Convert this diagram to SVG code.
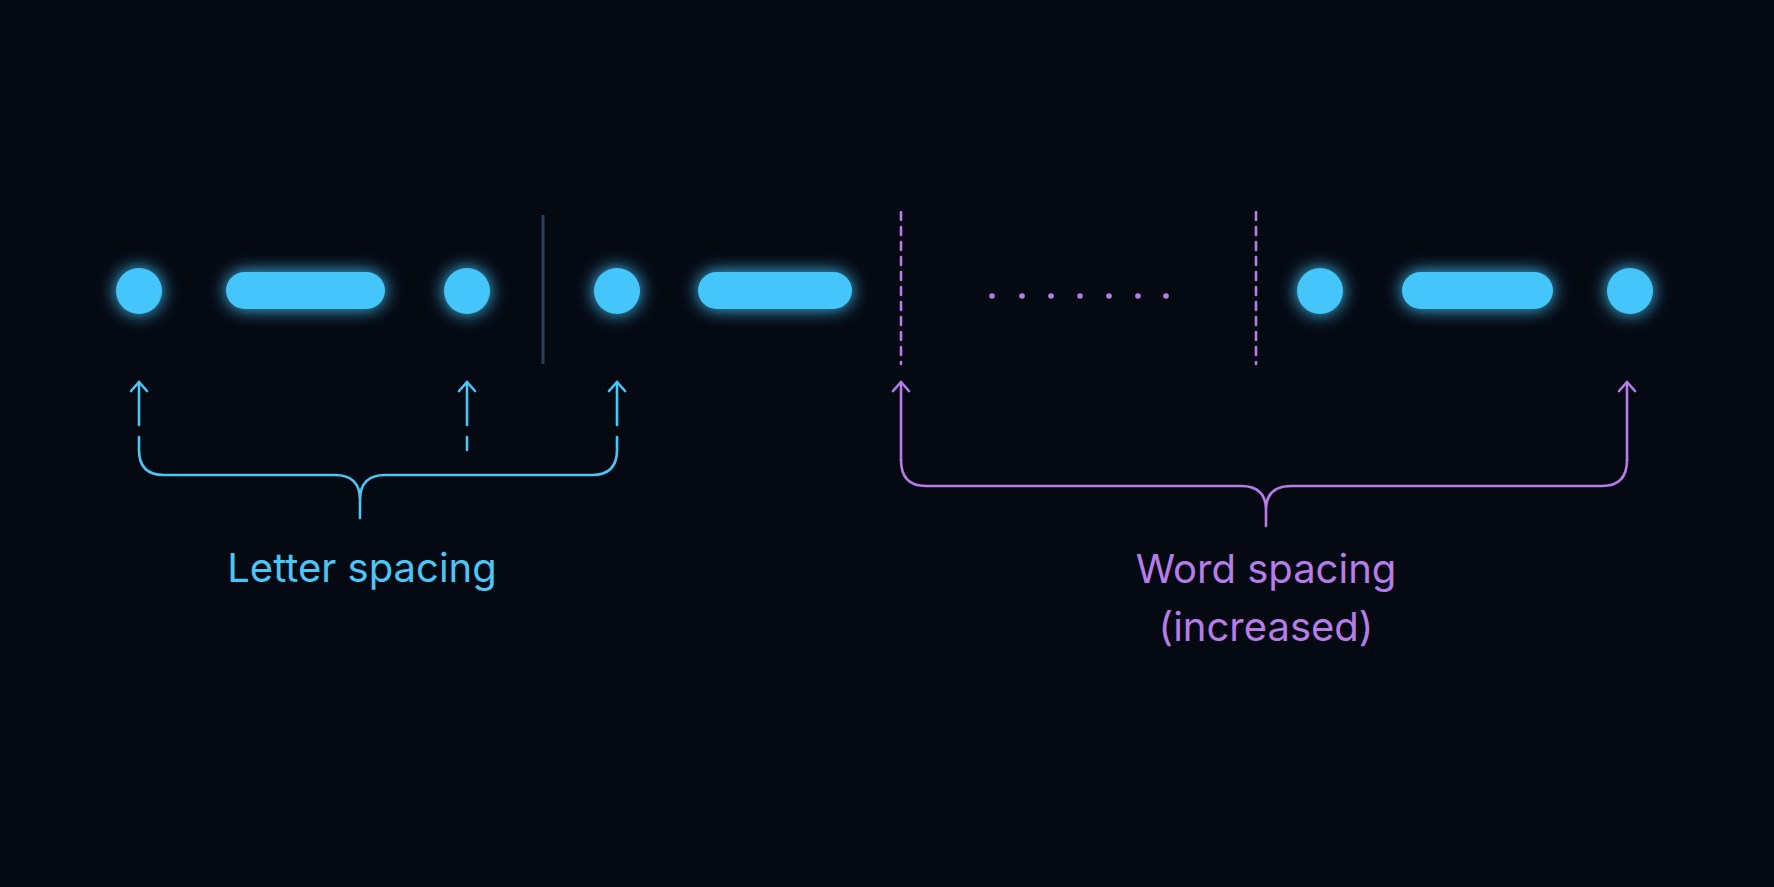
<svg xmlns="http://www.w3.org/2000/svg" width="1774" height="887" viewBox="0 0 1774 887">
<defs>
<filter id="glow" x="-50%" y="-100%" width="200%" height="300%"><feGaussianBlur stdDeviation="9" result="b"/><feMerge><feMergeNode in="b"/><feMergeNode in="SourceGraphic"/></feMerge></filter>
<marker id="ab" viewBox="0 0 20 20" refX="11" refY="10" markerWidth="20" markerHeight="20" markerUnits="userSpaceOnUse" orient="auto"><path d="M2 2 L11 10 L2 18" fill="none" stroke="#4cc6f5" stroke-width="2.6" stroke-linecap="round" stroke-linejoin="round"/></marker>
<marker id="ap" viewBox="0 0 20 20" refX="11" refY="10" markerWidth="20" markerHeight="20" markerUnits="userSpaceOnUse" orient="auto"><path d="M2 2 L11 10 L2 18" fill="none" stroke="#b67ce8" stroke-width="2.6" stroke-linecap="round" stroke-linejoin="round"/></marker>
</defs>
<style>
.m{fill:#45c6fb;filter:url(#glow)}
.b{fill:none;stroke:#4cc6f5;stroke-width:2.6;stroke-linecap:round;stroke-linejoin:round}
.p{fill:none;stroke:#b67ce8;stroke-width:2.6;stroke-linecap:round;stroke-linejoin:round}
.t{font-family:Inter,"Liberation Sans",sans-serif;font-size:40px;text-anchor:middle}
</style>
<rect width="1774" height="887" fill="#050912"/>
<g id="word1">
<circle class="m" cx="139" cy="291" r="23"/>
<rect class="m" x="226" y="272" width="159" height="37" rx="18.5"/>
<circle class="m" cx="467" cy="291" r="23"/>
</g>
<line id="separator" x1="543" y1="215" x2="543" y2="364" stroke="#25405a" stroke-width="3"/>
<g id="word2">
<circle class="m" cx="617" cy="291" r="23"/>
<rect class="m" x="698" y="272" width="154" height="37" rx="18.5"/>
</g>
<g id="gap">
<line class="p" x1="901" y1="212" x2="901" y2="364" stroke-dasharray="8 7" stroke-linecap="butt"/>
<line class="p" x1="1256" y1="212" x2="1256" y2="364" stroke-dasharray="8 7" stroke-linecap="butt"/>
<g fill="#b67ce8"><circle cx="992" cy="296" r="2.8"/><circle cx="1022" cy="296" r="2.8"/><circle cx="1051" cy="296" r="2.8"/><circle cx="1080" cy="296" r="2.8"/><circle cx="1109" cy="296" r="2.8"/><circle cx="1138" cy="296" r="2.8"/><circle cx="1166" cy="296" r="2.8"/></g>
</g>
<g id="word3">
<circle class="m" cx="1320" cy="291" r="23"/>
<rect class="m" x="1402" y="272" width="151" height="37" rx="18.5"/>
<circle class="m" cx="1630" cy="291" r="23"/>
</g>
<g id="connectors">
<line class="b" x1="139" y1="425" x2="139" y2="382" marker-end="url(#ab)"/>
<line class="b" x1="467" y1="425" x2="467" y2="382" marker-end="url(#ab)"/>
<line class="b" x1="467" y1="437" x2="467" y2="450"/>
<line class="b" x1="617" y1="425" x2="617" y2="382" marker-end="url(#ab)"/>
<path class="b" d="M139 437 V450 Q139 475 164 475 H335 Q360 475 360 500 V518 M360 500 Q360 475 385 475 H592 Q617 475 617 450 V437"/>
<line class="p" x1="901" y1="460" x2="901" y2="382" marker-end="url(#ap)"/>
<line class="p" x1="1627" y1="460" x2="1627" y2="382" marker-end="url(#ap)"/>
<path class="p" d="M901 460 Q901 486 926 486 H1241 Q1266 486 1266 510 V526 M1266 510 Q1266 486 1291 486 H1602 Q1627 486 1627 460"/>
</g>
<g id="labels">
<text class="t" x="362" y="582" fill="#4cc6f5">Letter spacing</text>
<text class="t" x="1266" y="583" fill="#b67ce8">Word spacing</text>
<text class="t" x="1266" y="641" fill="#b67ce8">(increased)</text>
</g>
</svg>
